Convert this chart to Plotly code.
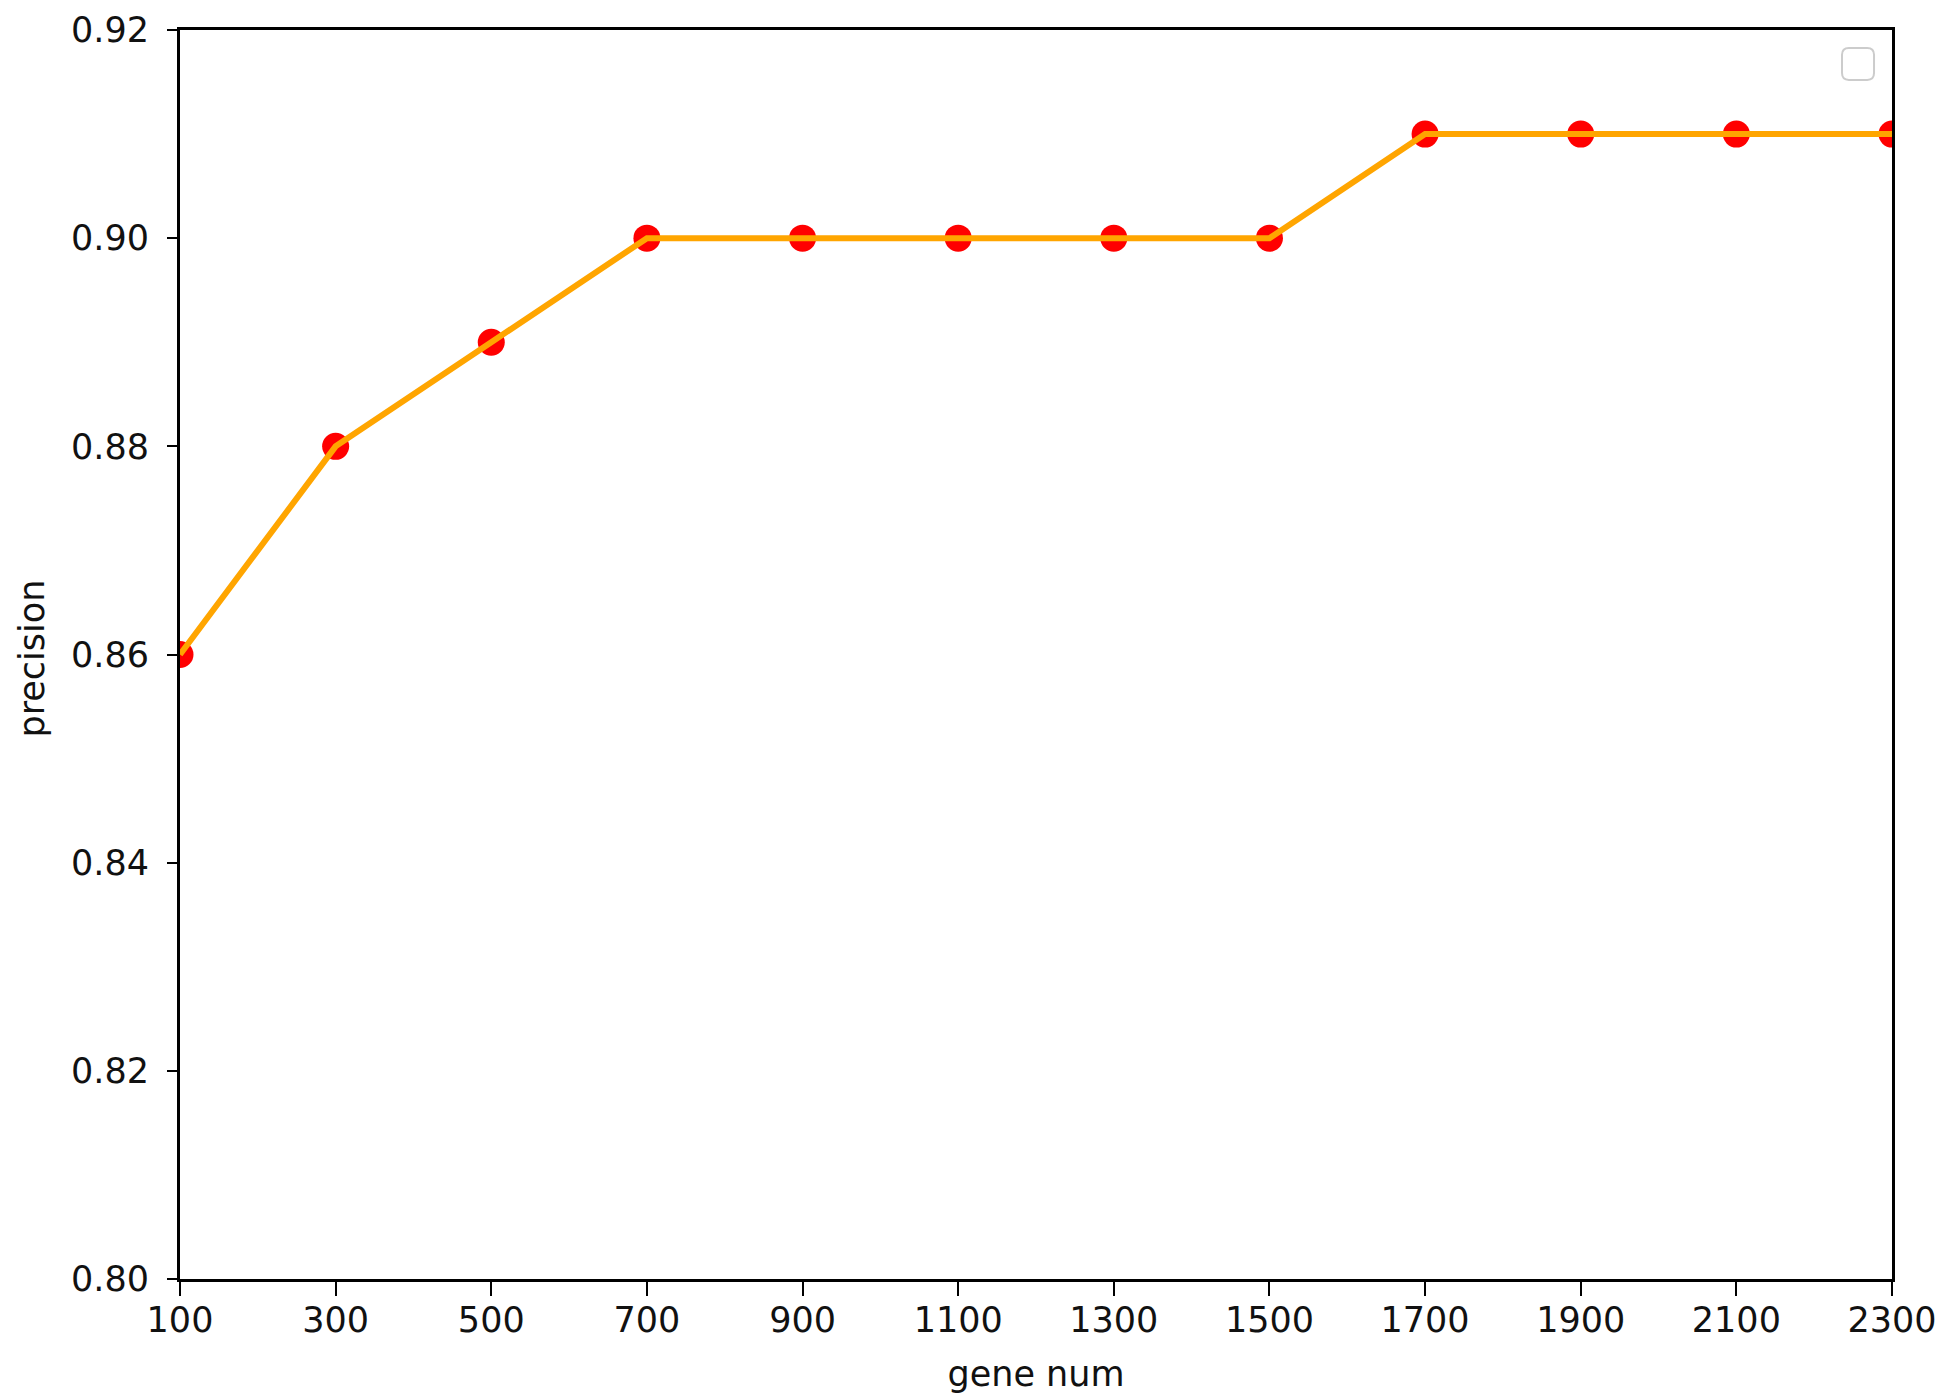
import plotly.graph_objects as go

gene_num = [100, 300, 500, 700, 900, 1100, 1300, 1500, 1700, 1900, 2100, 2300]
precision = [0.86, 0.88, 0.89, 0.90, 0.90, 0.90, 0.90, 0.90, 0.91, 0.91, 0.91, 0.91]
x_ticks = [100, 300, 500, 700, 900, 1100, 1300, 1500, 1700, 1900, 2100, 2300]
y_ticks = [0.80, 0.82, 0.84, 0.86, 0.88, 0.90, 0.92]

fig = go.Figure()
fig.add_trace(go.Scatter(x=gene_num, y=precision, mode="markers",
                         marker=dict(color="#ff0000", size=27), showlegend=False))
fig.add_trace(go.Scatter(x=gene_num, y=precision, mode="lines",
                         line=dict(color="#ffa500", width=6), showlegend=False))

FONT = "DejaVu Sans"
axis_common = dict(showline=True, linecolor="black", linewidth=3, mirror=True,
                   ticks="outside", tickwidth=2, tickcolor="black",
                   showgrid=False, zeroline=False, automargin=False,
                   tickfont=dict(family=FONT, size=35, color="#111111"))

fig.update_xaxes(range=[100, 2300], tickvals=x_ticks, ticklen=14, ticklabelstandoff=-6,
                 title=dict(text="gene num", font=dict(family=FONT, size=35, color="#111111"), standoff=23),
                 **axis_common)
fig.update_yaxes(range=[0.80, 0.92], tickvals=y_ticks, tickformat=".2f", ticklen=10,
                 ticklabelstandoff=11, **axis_common)

# y-axis title as annotation for precise placement
fig.add_annotation(text="precision", xref="paper", yref="paper", x=0, y=0.5,
                   xanchor="center", yanchor="middle", xshift=-149, yshift=-4,
                   textangle=-90, showarrow=False,
                   font=dict(family=FONT, size=35, color="#111111"))

# empty legend box (top right), rounded corners
x0, x1, y0, y1, r = 0.9708, 0.9895, 0.96, 0.9856, 0.004
ry = r * 1712 / 1249
path = (f"M {x0+r},{y1} L {x1-r},{y1} Q {x1},{y1} {x1},{y1-ry} "
        f"L {x1},{y0+ry} Q {x1},{y0} {x1-r},{y0} L {x0+r},{y0} "
        f"Q {x0},{y0} {x0},{y0+ry} L {x0},{y1-ry} Q {x0},{y1} {x0+r},{y1} Z")
fig.add_shape(type="path", xref="paper", yref="paper", path=path,
              line=dict(color="#cccccc", width=2), fillcolor="white")

fig.update_layout(width=1950, height=1398, plot_bgcolor="white", paper_bgcolor="white",
                  margin=dict(l=172, r=66, t=22, b=127),
                  font=dict(family=FONT, size=35, color="#111111"))

fig.write_html("out.html")
